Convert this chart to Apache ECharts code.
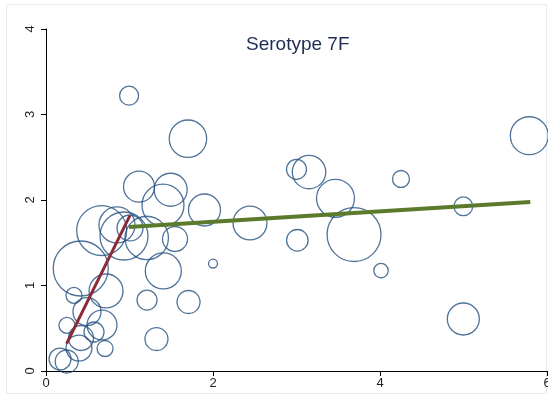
<!DOCTYPE html>
<html>
<head>
<meta charset="utf-8">
<script src="https://cdn.jsdelivr.net/npm/echarts@6/dist/echarts.min.js"></script>
<style>
html,body{margin:0;padding:0;background:#fff;}
#chart{width:548px;height:396px;}
</style>
</head>
<body>
<div id="chart"></div>
<script>
// Bubble data: x, y, weight
const bubbleX = [0.995,1.70,1.114,1.493,1.401,1.898,1.545,2.0,1.405,1.21,1.707,1.323,2.443,3.0,3.15,3.467,3.689,3.01,4.251,4.012,4.998,4.998,5.788,
  0.667,0.85,0.934,1.006,1.206,0.416,0.719,0.335,0.491,0.671,0.251,0.419,0.575,0.707,0.395,0.168,0.248];
const bubbleY = [3.22,2.717,2.156,2.12,1.94,1.883,1.544,1.257,1.17,0.83,0.807,0.374,1.731,2.359,2.327,2.02,1.596,1.529,2.246,1.175,1.926,0.608,2.752,
  1.643,1.708,1.579,1.673,1.556,1.199,0.936,0.885,0.694,0.538,0.534,0.386,0.456,0.263,0.269,0.14,0.111];
const bubbleW = [22.6,87.4,60,68,110,64,39,5,81,25,33,33,72,25,70,90,182,29,18,13,22,64,90,
  156,81,144,42,118,189,72,16,49,56,16,39,25,16,42,30,33];
// Fitted segments
const redLineX = [0.247, 1.006];
const redLineY = [0.32, 1.82];
const greenLineX = [0.994, 5.80];
const greenLineY = [1.684, 1.977];
const xTicks = [0, 2, 4, 6];
const yTicks = [0, 1, 2, 3, 4];
const titleText = 'Serotype 7F';

const bubbles = bubbleX.map((x, i) => [x, bubbleY[i], bubbleW[i]]);
const red = redLineX.map((x, i) => [x, redLineY[i]]);
const green = greenLineX.map((x, i) => [x, greenLineY[i]]);

const chart = echarts.init(document.getElementById('chart'), null, {renderer: 'canvas'});
const axisText = {color: '#222', fontSize: 13, fontFamily: 'Liberation Sans, Arial, sans-serif'};
chart.setOption({
  animation: false,
  backgroundColor: '#fff',
  graphic: [{
    type: 'rect', shape: {x: 6.5, y: 4.5, width: 540, height: 389},
    style: {fill: 'none', stroke: '#e2ebf1', lineWidth: 1}, z: -1
  }],
  title: {
    text: titleText, left: 246, top: 35, padding: 0,
    textStyle: {color: '#1f2d55', fontSize: 19, fontWeight: 'normal', fontFamily: 'Liberation Sans, Arial, sans-serif'}
  },
  grid: {left: 46, right: 1, top: 29, bottom: 25, containLabel: false, outerBoundsMode: 'none'},
  xAxis: {
    type: 'value', min: 0, max: 6, interval: 2,
    axisLine: {show: true, onZero: false, lineStyle: {color: '#000', width: 1}},
    axisTick: {show: true, length: 5, lineStyle: {color: '#000'}},
    axisLabel: Object.assign({margin: 6, hideOverlap: false, formatter: v => xTicks.includes(v) ? String(v) : ''}, axisText),
    splitLine: {show: false}
  },
  yAxis: {
    type: 'value', min: 0, max: 4, interval: 1,
    axisLine: {show: true, onZero: false, lineStyle: {color: '#000', width: 1}},
    axisTick: {show: true, length: 5, lineStyle: {color: '#000'}},
    axisLabel: Object.assign({margin: 9, rotate: 90, formatter: v => yTicks.includes(v) ? String(v) : ''}, axisText),
    splitLine: {show: false}
  },
  series: [
    {
      type: 'scatter', data: bubbles,
      symbolSize: v => 4 * Math.sqrt(v[2]),
      itemStyle: {color: 'rgba(0,0,0,0)', borderColor: '#24507f', borderWidth: 1.3},
      silent: true, z: 2
    },
    {
      type: 'line', data: red, symbol: 'none',
      lineStyle: {color: '#8c2a36', width: 3}, z: 3, silent: true
    },
    {
      type: 'line', data: green, symbol: 'none',
      lineStyle: {color: '#5b7a2b', width: 4}, z: 3, silent: true
    }
  ]
});
</script>
</body>
</html>
